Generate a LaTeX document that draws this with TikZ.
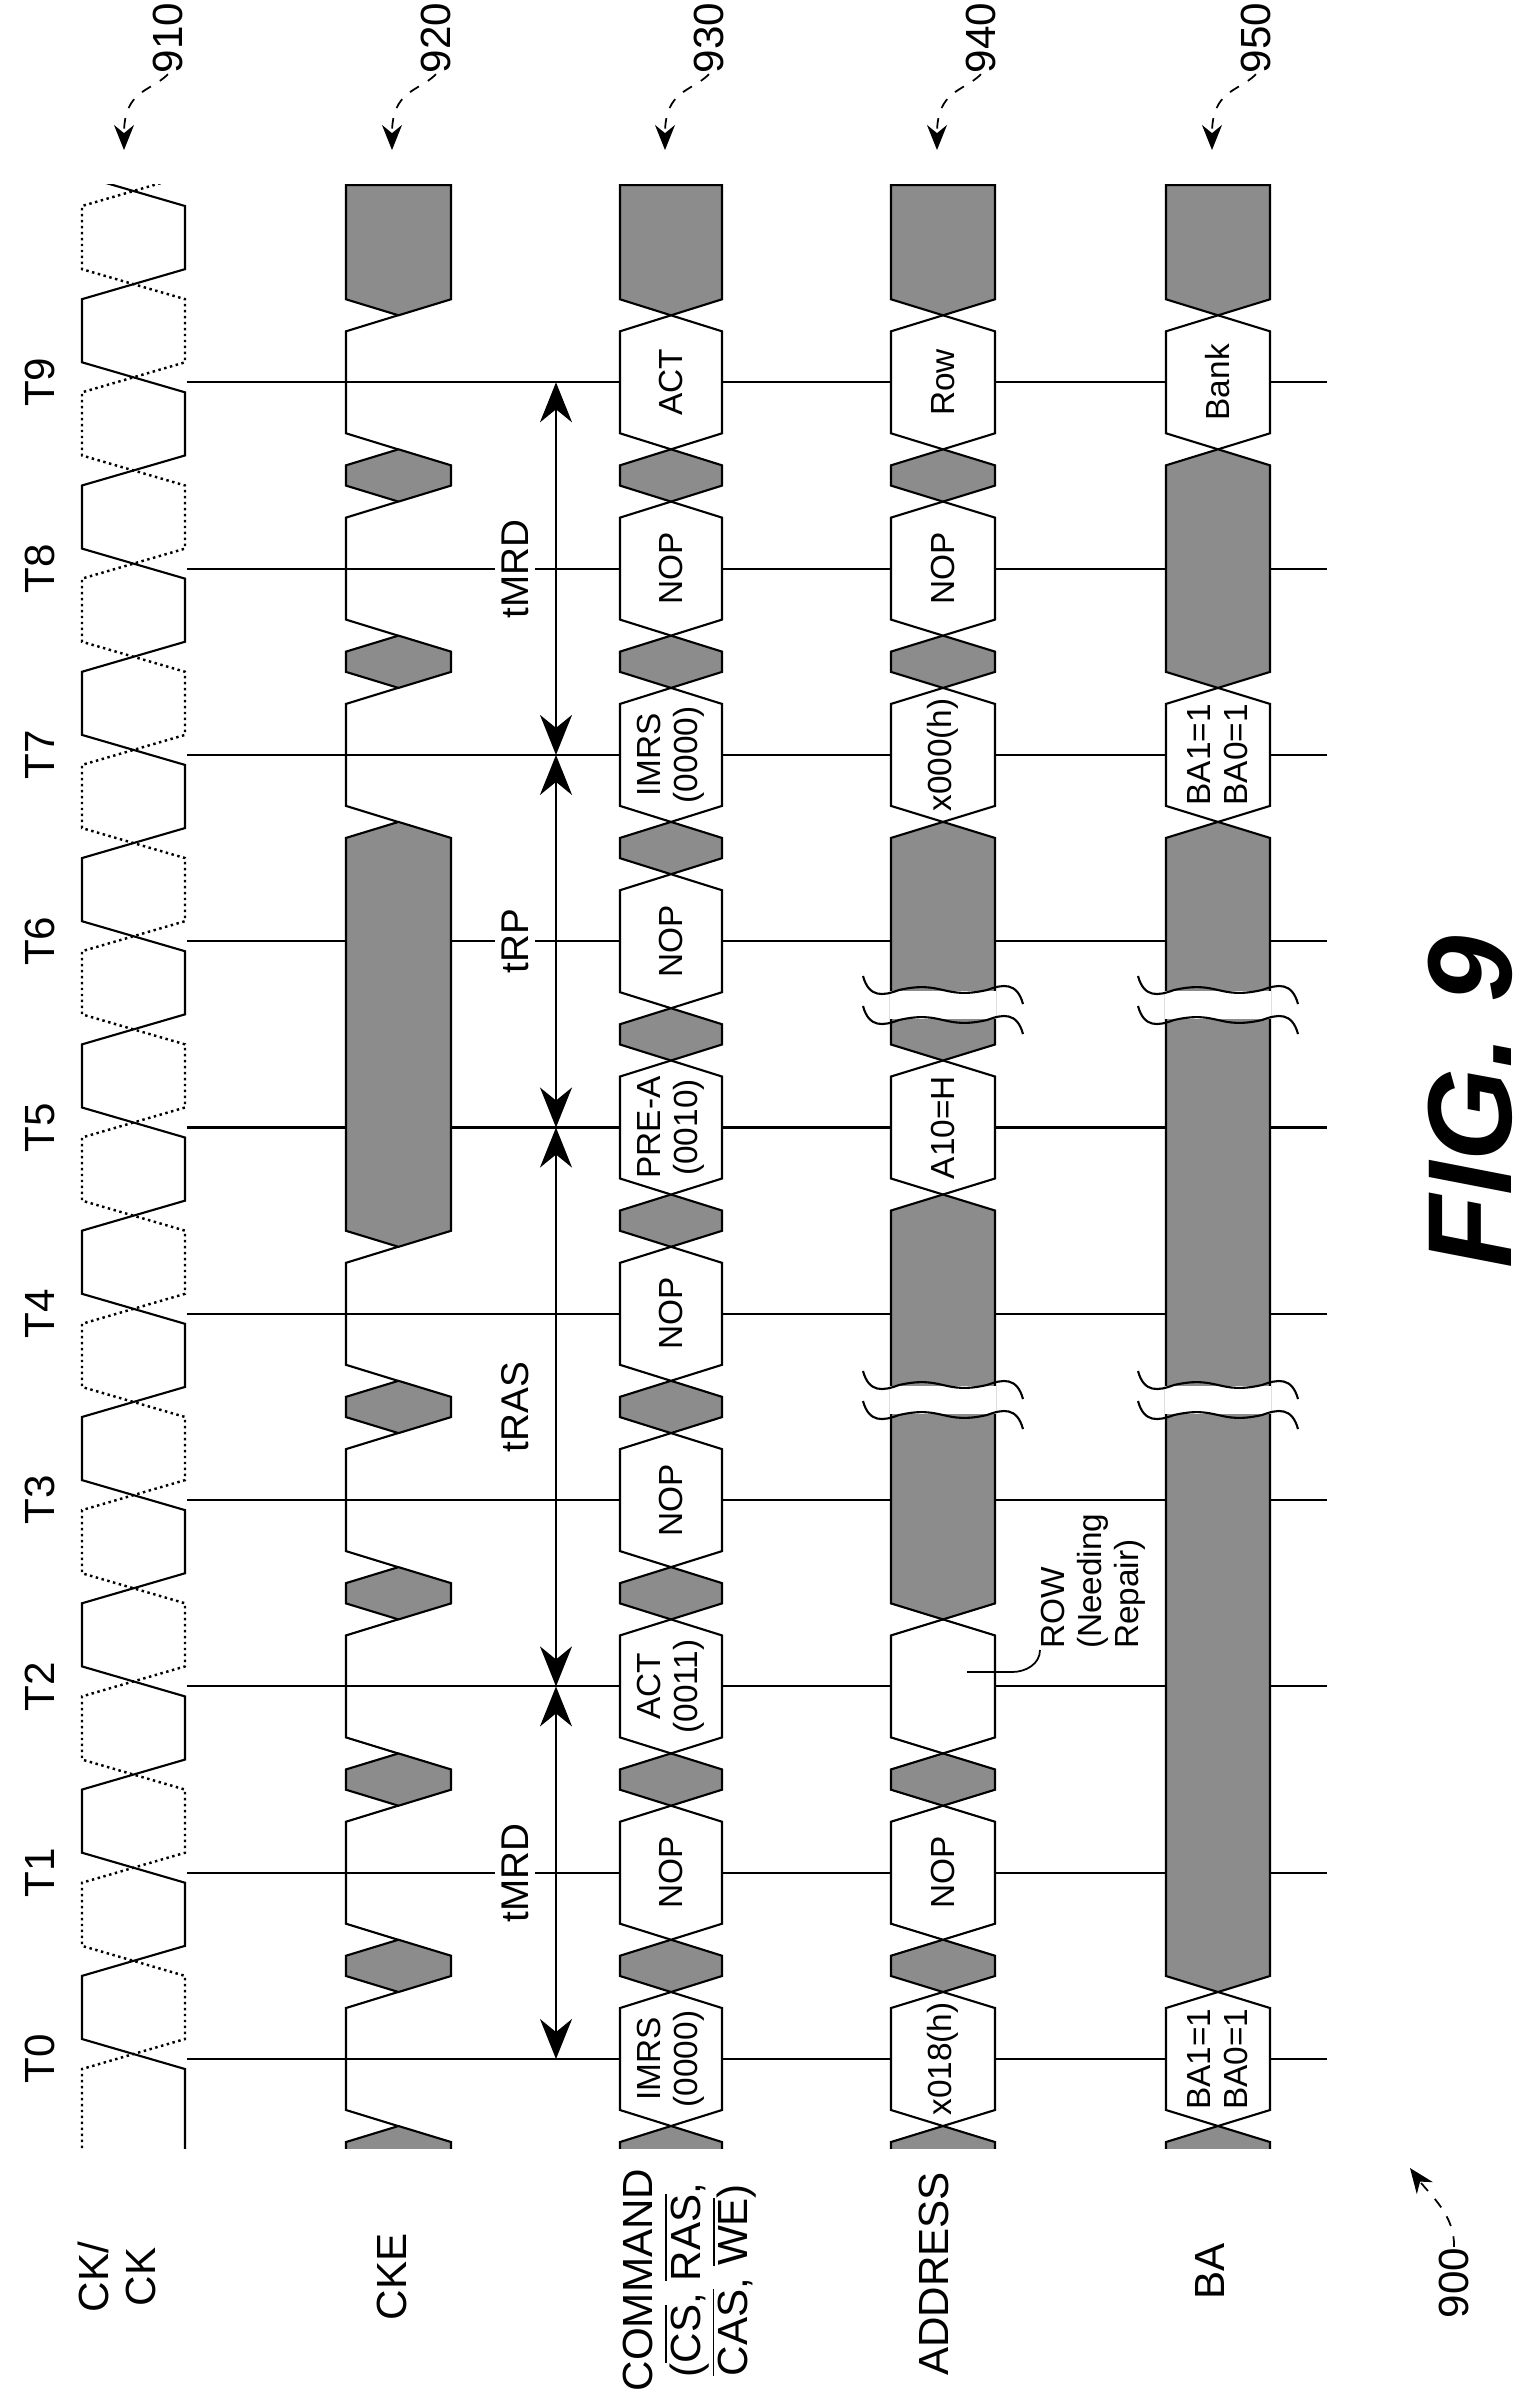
\documentclass[tikz,border=0pt]{standalone}
\usepackage{fontspec}
\setmainfont{Liberation Sans}
\usetikzlibrary{arrows.meta}

\definecolor{dontcare}{gray}{0.55}
% y of clock edge k
\newcommand{\Y}[1]{2059-186.3*(#1)}
% signal cell: fill, left x, right x, upper tip y, lower tip y
\newcommand{\sig}[5]{\filldraw[fill=#1] ({(#2+#3)/2},{#4}) -- (#3,{#4+16}) -- (#3,{#5-16}) -- ({(#2+#3)/2},{#5}) -- (#2,{#5-16}) -- (#2,{#4+16}) -- cycle;}
\newcommand{\topblk}[2]{\filldraw[fill=dontcare] (#1,185) -- (#2,185) -- (#2,{\Y{9}-83}) -- ({(#1+#2)/2},{\Y{9}-67}) -- (#1,{\Y{9}-83}) -- cycle;}
\newcommand{\wave}[3]{\draw (#1-28,{#3-14}) .. controls (#1-22,{#3+8}) and (#1-8,{#3+6}) .. (#1+8,{#3}) .. controls ({(#1+#2)/2},{#3-10}) and ({(#1+#2)/2},{#3+10}) .. (#2-8,{#3}) .. controls (#2+8,{#3-6}) and (#2+22,{#3-8}) .. (#2+28,{#3+14});}
\newcommand{\brk}[3]{\fill[white] (#1-1,{#3-14}) rectangle (#2+1,{#3+14}); \wave{#1}{#2}{#3-15} \wave{#1}{#2}{#3+15}}

\tikzset{
  boxtxt/.style={rotate=90, align=center, inner sep=0pt, font=\fontsize{9.5}{10.5}\selectfont},
  lanelbl/.style={rotate=90, align=center, inner sep=0pt, font=\fontsize{12}{13.5}\selectfont},
  tlbl/.style={rotate=90, inner sep=0pt, font=\fontsize{12}{14}\selectfont},
  tlabel/.style={rotate=90, fill=white, inner sep=2pt, font=\fontsize{11}{12}\selectfont},
  tarrow/.style={{Stealth[length=4mm,width=3.2mm]}-{Stealth[length=4mm,width=3.2mm]}, line width=0.6pt},
  refarrow/.style={-{Stealth[length=2.5mm,width=2mm]}, dashed, line width=0.5pt},
  gridline/.style={line width=0.6pt},
  ckdot/.style={densely dotted, line width=0.7pt}
}

\begin{document}
\begin{tikzpicture}[x=0.1mm, y=-0.1mm, line width=0.6pt]
\useasboundingbox (0,0) rectangle (1530,2401);

% clock edges
\foreach \k in {0,...,9} {
  \node[tlbl] (t\k) at (40,{\Y{\k}}) {T\k};
  \draw[gridline] (187,{\Y{\k}}) -- (1327,{\Y{\k}});
}

\begin{scope}
\clip (0,184) rectangle (1530,2148);
% CK and CK#
\draw (185,2160) \foreach \j [evaluate=\j as \xa using {mod(\j,2)==0?185:82}, evaluate=\j as \xb using {mod(\j,2)==0?82:185}] in {0,...,20} { -- (\xa,{2054-93.15*\j+15}) -- (\xb,{2054-93.15*\j-15}) } -- (82,170);
\draw[ckdot] (82,2160) \foreach \j [evaluate=\j as \xa using {mod(\j,2)==0?82:185}, evaluate=\j as \xb using {mod(\j,2)==0?185:82}] in {0,...,20} { -- (\xa,{2054-93.15*\j+15}) -- (\xb,{2054-93.15*\j-15}) } -- (185,170);

% CKE
\foreach \k in {0,1,2,3,4,7,8,9} {
  \draw ({398},{\Y{\k}+67}) -- (346,{\Y{\k}+51}) -- (346,{\Y{\k}-51}) -- (398,{\Y{\k}-67});
}
\foreach \k in {-1,0,1,2,3,7,8} {
  \sig{dontcare}{346}{451}{\Y{\k+1}+67}{\Y{\k}-67}
}
\sig{dontcare}{346}{451}{\Y{7}+67}{\Y{4}-67}
\topblk{346}{451}

% COMMAND
\foreach \k in {-1,0,...,8} {
  \sig{dontcare}{620}{722}{\Y{\k+1}+67}{\Y{\k}-67}
}
\foreach \k in {0,...,9} {
  \sig{white}{620}{722}{\Y{\k}-67}{\Y{\k}+67}
}
\topblk{620}{722}

% ADDRESS
\foreach \k in {-1,0,1,7,8} {
  \sig{dontcare}{891}{995}{\Y{\k+1}+67}{\Y{\k}-67}
}
\foreach \k in {0,1,2,5,7,8,9} {
  \sig{white}{891}{995}{\Y{\k}-67}{\Y{\k}+67}
}
\sig{dontcare}{891}{995}{\Y{5}+67}{\Y{2}-67}
\sig{dontcare}{891}{995}{\Y{7}+67}{\Y{5}-67}
\topblk{891}{995}

% BA
\sig{dontcare}{1166}{1270}{\Y{0}+67}{\Y{-1}-67}
\foreach \k in {0,7,9} {
  \sig{white}{1166}{1270}{\Y{\k}-67}{\Y{\k}+67}
}
\sig{dontcare}{1166}{1270}{\Y{7}+67}{\Y{0}-67}
\sig{dontcare}{1166}{1270}{\Y{9}+67}{\Y{7}-67}
\topblk{1166}{1270}
\end{scope}

% breaks
\brk{891}{995}{1400}
\brk{891}{995}{1005}
\brk{1166}{1270}{1400}
\brk{1166}{1270}{1005}

% cell texts
\foreach \k/\txt in {0/{IMRS\\(0000)},1/NOP,2/{ACT\\(0011)},3/NOP,4/NOP,5/{PRE-A\\(0010)},6/NOP,7/{IMRS\\(0000)},8/NOP,9/ACT} {
  \node[boxtxt] (cmd\k) at (671,{\Y{\k}}) {\txt};
}
\foreach \k/\txt in {0/x018(h),1/NOP,5/A10=H,7/x000(h),8/NOP,9/Row} {
  \node[boxtxt] (adr\k) at (943,{\Y{\k}}) {\txt};
}
\foreach \k/\txt in {0/{BA1=1\\BA0=1},7/{BA1=1\\BA0=1},9/Bank} {
  \node[boxtxt] (ba\k) at (1218,{\Y{\k}}) {\txt};
}

% row needing repair
\node[boxtxt, align=left, anchor=north west] (rowlbl) at (1040,1650) {ROW\\(Needing\\Repair)};
\coordinate (rowpt) at (967,1672);
\draw[line width=0.5pt] (rowpt) -- (1012,1672) to[out=0,in=-90] (rowlbl.north west);

% timing
\foreach \k in {0,2,5,7,9} {
  \coordinate (a\k) at (556,{\Y{\k}});
}
\draw[tarrow] (a0) -- (a2);
\draw[tarrow] (a2) -- (a5);
\draw[tarrow] (a5) -- (a7);
\draw[tarrow] (a7) -- (a9);
\node[tlabel] (tmrd1) at (515,{\Y{1}}) {tMRD};
\node[tlabel] (tras) at (515,{\Y{3.5}}) {tRAS};
\node[tlabel] (trp) at (515,{\Y{6}}) {tRP};
\node[tlabel] (tmrd2) at (515,{\Y{8}}) {tMRD};

% lane names
\node[lanelbl] (lck) at (117,2277) {CK/\\CK};
\node[lanelbl] (lcke) at (392,2277) {CKE};
\node[lanelbl] (lcmd) at (690,2280) {COMMAND\\($\overline{\mbox{CS}}$, $\overline{\mbox{RAS}}$,\\$\overline{\mbox{CAS}}$, $\overline{\mbox{WE}}$)};
\node[lanelbl] (ladr) at (934,2274) {ADDRESS};
\node[lanelbl] (lba) at (1210,2271) {BA};

% reference numerals
\foreach \n/\x in {910/130,920/398,930/671,940/943,950/1218} {
  \node[tlbl] (r\n) at (\x+38,38) {\n};
  \coordinate (p\n) at (\x-6,150);
  \draw[refarrow] (r\n.west) .. controls (\x+20,92) and (\x-6,90) .. (p\n);
}
\node[tlbl] (r900) at (1454,2283) {900};
\coordinate (p900) at (1410,2168);
\draw[refarrow] (r900.east) .. controls (1455,2215) and (1430,2195) .. (p900);

\node[rotate=90, inner sep=0pt, font=\fontsize{34}{34}\selectfont\bfseries\itshape] (fig) at (1470,1102) {FIG. 9};
\end{tikzpicture}
\end{document}
